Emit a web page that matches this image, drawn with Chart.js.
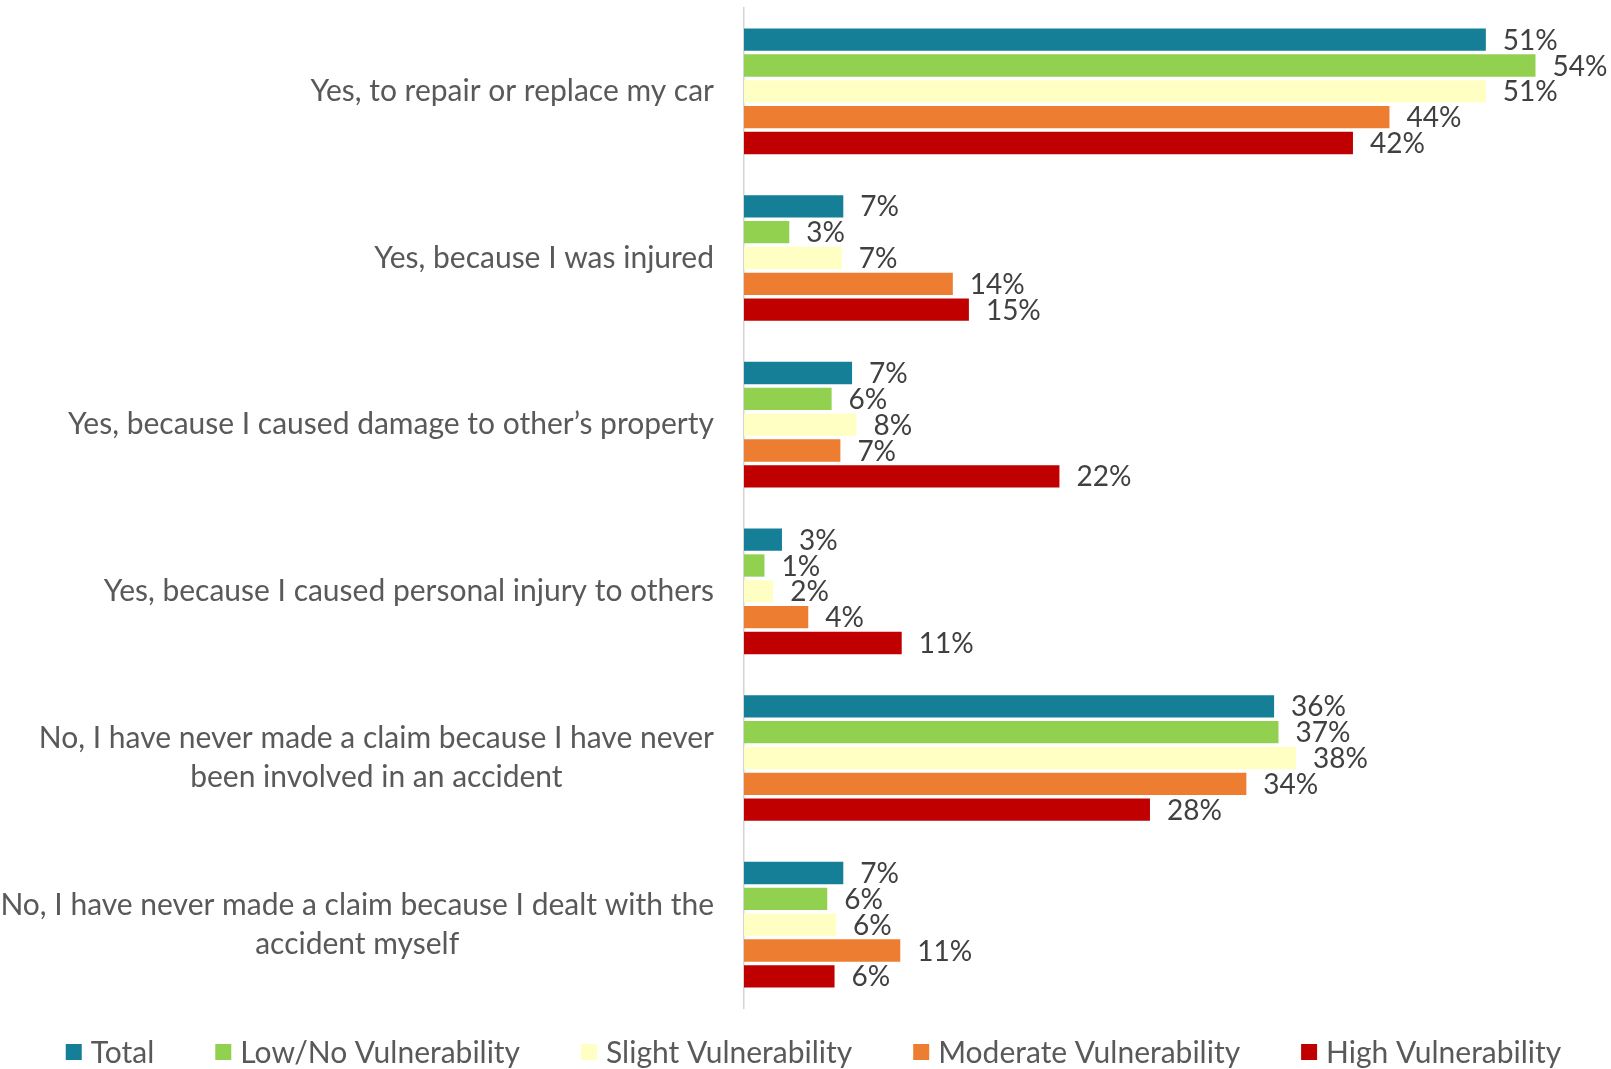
<!DOCTYPE html>
<html>
<head>
<meta charset="utf-8">
<title>Insurance claims by vulnerability</title>
<script src="https://cdn.jsdelivr.net/npm/chart.js@4.4.1/dist/chart.umd.min.js"></script>
<style>
  html, body { margin: 0; padding: 0; background: #ffffff; }
  #wrap { width: 1611px; height: 1069px; position: relative; }
</style>
</head>
<body>
<div id="wrap"><canvas id="chart" width="1611" height="1069"></canvas></div>
<script>
// Survey answers (each label may span several lines)
const categories = [
  ['Yes, to repair or replace my car'],
  ['Yes, because I was injured'],
  ['Yes, because I caused damage to other\u2019s property'],
  ['Yes, because I caused personal injury to others'],
  ['No, I have never made a claim because I have never', 'been involved in an accident'],
  ['No, I have never made a claim because I dealt with the', 'accident myself']
];

// Respondent groups
const seriesNames = ['Total', 'Low/No Vulnerability', 'Slight Vulnerability', 'Moderate Vulnerability', 'High Vulnerability'];

// Share of respondents (%) per answer
const totalValues    = [50.8, 6.8, 7.4, 2.6, 36.3, 6.8];
const lowNoValues    = [54.2, 3.1, 6.0, 1.4, 36.6, 5.7];
const slightValues   = [50.8, 6.7, 7.7, 2.0, 37.8, 6.3];
const moderateValues = [44.2, 14.3, 6.6, 4.4, 34.4, 10.7];
const highValues     = [41.7, 15.4, 21.6, 10.8, 27.8, 6.2];

const seriesValues = [totalValues, lowNoValues, slightValues, moderateValues, highValues];
const seriesColors = ['#157F98', '#92D050', '#FFFFC3', '#ED7D31', '#C00000'];

const FONT_FAMILY = 'Lato, "Open Sans", sans-serif';
const LABEL_FONT_SIZE = 30;
const VALUE_FONT_SIZE = 28;
const LABEL_LINE_HEIGHT = 39;
const LABEL_COLOR = '#595959';
const VALUE_COLOR = '#404040';
const Y_AXIS_WIDTH = 744;
const LABEL_GAP = 30;

// Category labels: each block right-aligned against the axis, lines centred within it
const categoryLabels = {
  id: 'categoryLabels',
  afterDraw(chart) {
    const ctx = chart.ctx;
    const yScale = chart.scales.y;
    ctx.save();
    ctx.font = LABEL_FONT_SIZE + 'px ' + FONT_FAMILY;
    ctx.fillStyle = LABEL_COLOR;
    ctx.textAlign = 'center';
    ctx.textBaseline = 'middle';
    chart.data.labels.forEach((lines, i) => {
      const cy = yScale.getPixelForValue(i);
      const widest = Math.max(...lines.map(l => ctx.measureText(l).width));
      const cx = yScale.right - LABEL_GAP - widest / 2;
      lines.forEach((line, k) => {
        const ty = cy + (k - (lines.length - 1) / 2) * LABEL_LINE_HEIGHT;
        ctx.fillText(line, cx, ty);
      });
    });
    ctx.restore();
  }
};

// Percentage printed at the end of each bar
const valueLabels = {
  id: 'valueLabels',
  afterDatasetsDraw(chart) {
    const ctx = chart.ctx;
    ctx.save();
    ctx.font = VALUE_FONT_SIZE + 'px ' + FONT_FAMILY;
    ctx.fillStyle = VALUE_COLOR;
    ctx.textAlign = 'left';
    ctx.textBaseline = 'middle';
    chart.data.datasets.forEach((ds, i) => {
      const meta = chart.getDatasetMeta(i);
      meta.data.forEach((bar, j) => {
        ctx.fillText(Math.round(ds.data[j]) + '%', bar.x + 17, bar.y + 1);
      });
    });
    ctx.restore();
  }
};

// Single-row legend under the plot
const bottomLegend = {
  id: 'bottomLegend',
  afterDraw(chart) {
    const ctx = chart.ctx;
    const box = 16, boxGap = 9, itemGap = 61, cy = 1052;
    ctx.save();
    ctx.font = LABEL_FONT_SIZE + 'px ' + FONT_FAMILY;
    ctx.textBaseline = 'middle';
    ctx.textAlign = 'left';
    const items = chart.data.datasets.map(ds => ({
      text: ds.label, color: ds.backgroundColor, w: box + boxGap + ctx.measureText(ds.label).width
    }));
    const total = items.reduce((s, it) => s + it.w, 0) + itemGap * (items.length - 1);
    let x = chart.width / 2 + 8 - total / 2;
    items.forEach(it => {
      ctx.fillStyle = it.color;
      ctx.fillRect(x, cy - box / 2, box, box);
      ctx.fillStyle = LABEL_COLOR;
      ctx.fillText(it.text, x + box + boxGap, cy + 1);
      x += it.w + itemGap;
    });
    ctx.restore();
  }
};

new Chart(document.getElementById('chart'), {
  type: 'bar',
  data: {
    labels: categories,
    datasets: seriesNames.map((name, i) => ({
      label: name,
      data: seriesValues[i],
      backgroundColor: seriesColors[i],
      borderWidth: 0,
      barPercentage: 0.865,
      categoryPercentage: 0.775
    }))
  },
  options: {
    indexAxis: 'y',
    responsive: false,
    animation: false,
    devicePixelRatio: 1,
    layout: { padding: { left: 0, right: 20, top: 8, bottom: 61 } },
    plugins: {
      legend: { display: false },
      tooltip: { enabled: false }
    },
    scales: {
      x: { min: 0, max: 58, display: false },
      y: {
        type: 'category',
        grid: { display: false, drawTicks: false },
        ticks: { display: false },
        border: { display: true, color: '#d4d4d4', width: 1.5 },
        afterFit(scale) { scale.width = Y_AXIS_WIDTH; }
      }
    }
  },
  plugins: [categoryLabels, valueLabels, bottomLegend]
});
</script>
</body>
</html>
